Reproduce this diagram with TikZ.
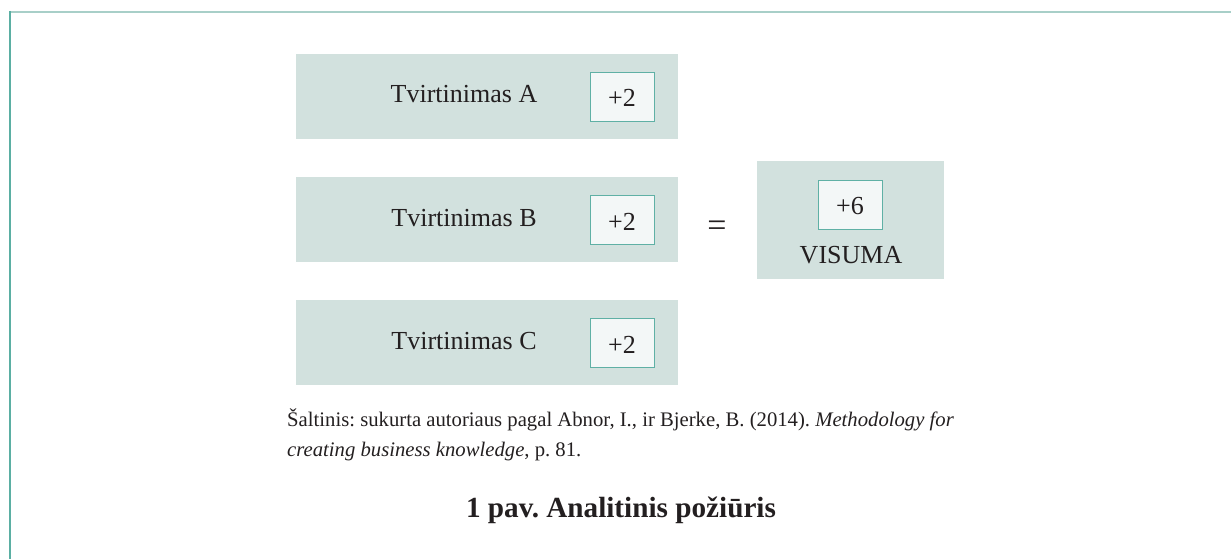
\documentclass[tikz,border=0pt]{standalone}
\usepackage{fontspec}
\setmainfont{Liberation Serif}
\definecolor{boxfill}{HTML}{D2E1DE}
\definecolor{innerfill}{HTML}{F3F7F7}
\definecolor{innerline}{HTML}{5FB0A5}
\definecolor{txt}{HTML}{231F20}
\definecolor{frametop}{HTML}{A8CFC8}
\definecolor{frameleft}{HTML}{5BAFA3}
\tikzset{
  claim/.style={rectangle, fill=boxfill, minimum width=382pt, minimum height=85pt, inner sep=0pt},
  score/.style={rectangle, fill=innerfill, draw=innerline, line width=0.9pt, minimum width=64pt, minimum height=49pt, inner sep=0pt},
  lbl/.style={anchor=base, text=txt, inner sep=0pt, font=\fontsize{26}{30}\selectfont},
}
\begin{document}
\frenchspacing
\begin{tikzpicture}[x=1pt, y=-1pt]
\useasboundingbox (0,0) rectangle (1231,559);
\draw[frametop, line width=2pt] (10,12) -- (1231,12);
\draw[frameleft, line width=2pt] (10,11) -- (10,559);
% claims
\foreach \n/\L/\dy in {a/A/0, b/B/123, c/C/246} {
  \node[claim] (box\n) at (487, 96.5+\dy) {};
  \node[score] (sc\n) at (622, 96.5+\dy) {};
  \node[lbl] (t\n) at (464, 103+\dy) {Tvirtinimas \L};
  \node[lbl] (v\n) at (622, 107+\dy) {+2};
}
\node[lbl, font=\fontsize{34}{34}\selectfont] (eq) at (717, 236) {=};
\node[rectangle, fill=boxfill, minimum width=187pt, minimum height=118pt, inner sep=0pt] (total) at (850.5, 220) {};
\node[score] (sctot) at (850, 204.5) {};
\node[lbl] (vtot) at (850, 214) {+6};
\node[lbl] (visuma) at (851, 263) {VISUMA};
\node[anchor=base west, text=txt, inner sep=0pt, align=left, font=\fontsize{20.7}{29.5}\selectfont] (src) at (287, 456)
  {Šaltinis: sukurta autoriaus pagal Abnor, I., ir Bjerke, B. (2014). \textit{Methodology for}\\\textit{creating business knowledge}, p.~81.};
\node[anchor=base, text=txt, inner sep=0pt, font=\bfseries\fontsize{29.2}{32}\selectfont] (title) at (621, 517.5) {1 pav. Analitinis požiūris};
\end{tikzpicture}
\end{document}
